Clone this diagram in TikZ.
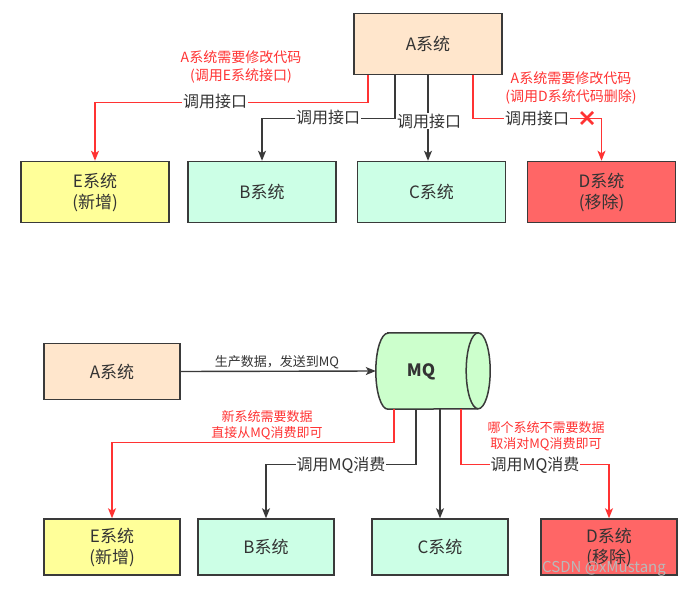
\documentclass[tikz,border=0pt]{standalone}
\usepackage{fontspec}
\setmainfont{Noto Sans CJK SC}
\usetikzlibrary{arrows.meta}
\definecolor{boxline}{HTML}{3A3A3A}
\definecolor{redl}{HTML}{FF3333}
\definecolor{fa}{HTML}{FFE6CC}
\definecolor{fe}{HTML}{FFFF99}
\definecolor{fb}{HTML}{CCFFE6}
\definecolor{fd}{HTML}{FF6666}
\definecolor{fmq}{HTML}{CCFFCC}
\definecolor{txt}{HTML}{333333}
\begin{document}
\begin{tikzpicture}[x=1pt,y=-1pt,
 sysbox/.style={draw=boxline, line width=1.5pt, text=txt, font=\fontsize{17}{21}\selectfont, align=center, inner sep=0pt, minimum width=148pt, minimum height=61pt},
 sysboxb/.style={sysbox, minimum width=136pt, minimum height=56pt},
 blk/.style={draw=boxline, line width=1.4pt, -{Stealth[length=10pt,width=8pt,inset=2.5pt]}},
 redc/.style={blk, draw=redl},
 lbl/.style={fill=white, text=txt, font=\fontsize{16}{19}\selectfont, inner sep=1pt},
 note/.style={text=redl, align=center, font=\fontsize{14}{18}\selectfont},
 noteb/.style={text=redl, align=center, font=\fontsize{13}{16}\selectfont}]
\useasboundingbox[fill=white] (0,0) rectangle (697,589);

% ---------- top ----------
\node[sysbox, fill=fa] (A) at (428,44) {A系统};
\node[sysbox, fill=fe] (E) at (95,192) {E系统\\(新增)};
\node[sysbox, fill=fb] (B) at (262,192) {B系统};
\node[sysbox, fill=fb] (C) at (431.5,192) {C系统};
\node[sysbox, fill=fd] (D) at (601.5,192) {D系统\\(移除)};

\draw[redc] ([xshift=-60pt]A.south) -- ++(0,27) -| (E.north);
\draw[blk] ([xshift=-33pt]A.south) -- ++(0,43) -| (B.north);
\draw[blk] (A.south) -- (A.south |- C.north);
\draw[redc] ([xshift=45pt]A.south) -- ++(0,43) -| (D.north);

\node[lbl] at (215,101) {调用接口};
\node[lbl] at (328,117) {调用接口};
\node[lbl] at (429,121) {调用接口};
\node[lbl] at (537,118) {调用接口};
\coordinate (xm) at (587,118);
\draw[redl, line width=2.6pt] ([shift={(-6,-6)}]xm) -- ([shift={(6,6)}]xm);
\draw[redl, line width=2.6pt] ([shift={(-6,6)}]xm) -- ([shift={(6,-6)}]xm);

\node[note] at (241,67) {A系统需要修改代码\\(调用E系统接口)};
\node[note] at (571,88) {A系统需要修改代码\\(调用D系统代码删除)};

% ---------- bottom ----------
\node[sysboxb, fill=fa] (A2) at (112,371.5) {A系统};
\node[sysboxb, fill=fe] (E2) at (112,547) {E系统\\(新增)};
\node[sysboxb, fill=fb] (B2) at (266,547) {B系统};
\node[sysboxb, fill=fb] (C2) at (440,547) {C系统};
\node[sysboxb, fill=fd] (D2) at (609,547) {D系统\\(移除)};

\node[minimum width=114pt, minimum height=76pt, inner sep=0pt] (MQ) at (433,371) {};
\draw[boxline, line width=1.5pt, fill=fmq]
  ([xshift=12pt]MQ.north west) -- ([xshift=-12pt]MQ.north east)
  arc[start angle=-90, end angle=90, x radius=12, y radius=38]
  -- ([xshift=12pt]MQ.south west)
  arc[start angle=90, end angle=270, x radius=12, y radius=38] -- cycle;
\draw[boxline, line width=1.5pt] ([xshift=-12pt]MQ.north east)
  arc[start angle=270, end angle=90, x radius=12, y radius=38];
\node[text=txt, font=\fontsize{17}{20}\selectfont\bfseries] at (421,372) {MQ};

\draw[blk] (A2.east) -- (MQ.west);
\node[text=txt, font=\fontsize{13}{16}\selectfont] at (277,362) {生产数据，发送到MQ};

\draw[redc] ([xshift=-39pt]MQ.south) -- ++(0,33) -| (E2.north);
\draw[blk] ([xshift=-17pt]MQ.south) -- ++(0,55) -| (B2.north);
\draw[blk] ([xshift=7pt]MQ.south) -- ([xshift=7pt]MQ.south |- C2.north);
\draw[redc] ([xshift=28pt]MQ.south) -- ++(0,55) -| (D2.north);

\node[lbl] at (341,465) {调用MQ消费};
\node[lbl] at (535,465) {调用MQ消费};
\node[noteb] at (267,425) {新系统需要数据\\直接从MQ消费即可};
\node[noteb] at (546,436) {哪个系统不需要数据\\取消对MQ消费即可};

\node[text=gray!55, font=\fontsize{15}{18}\selectfont] at (604,569) {CSDN @xMustang};
\end{tikzpicture}
\end{document}
